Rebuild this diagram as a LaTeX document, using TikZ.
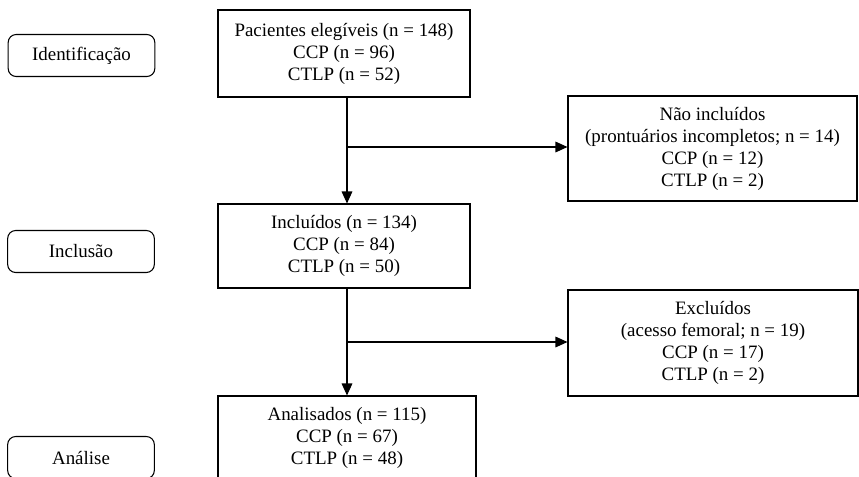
\documentclass[tikz,border=0pt]{standalone}
\usepackage{fontspec}
\setmainfont{Liberation Serif}
\usetikzlibrary{arrows.meta}
\begin{document}
\begin{tikzpicture}[x=0.75pt,y=-0.75pt,
  every node/.style={font=\fontsize{14.2pt}{16.5pt}\selectfont, align=center, inner sep=0pt},
  mainbox/.style={draw, line width=0.8pt},
  stagebox/.style={draw, line width=0.8pt, rounded corners=6pt, minimum width=110pt, minimum height=31.5pt},
  arr/.style={line width=0.8pt, -{Triangle[length=9pt,width=8pt]}}]
\clip (0,0) rectangle (859,476);
\fill[white] (0,0) rectangle (859,476);

\node[stagebox] (s1) at (81.5,55.5) {Identificação};
\node[stagebox] (s2) at (81,251.5) {Inclusão};
\node[stagebox] (s3) at (81,457.5) {Análise};

\node[mainbox, minimum width=189pt, minimum height=65.25pt] (b1) at (344,53.5)
  {Pacientes elegíveis (n = 148)\\CCP (n = 96)\\CTLP (n = 52)};
\node[mainbox, minimum width=216.75pt, minimum height=78.75pt] (b2) at (712.5,148.5)
  {Não incluídos\\(prontuários incompletos; n = 14)\\CCP (n = 12)\\CTLP (n = 2)};
\node[mainbox, minimum width=189pt, minimum height=63pt] (b3) at (344,246)
  {Incluídos (n = 134)\\CCP (n = 84)\\CTLP (n = 50)};
\node[mainbox, minimum width=217.5pt, minimum height=79.5pt] (b4) at (713,343)
  {Excluídos\\(acesso femoral; n = 19)\\CCP (n = 17)\\CTLP (n = 2)};
\node[mainbox, minimum width=193.5pt, minimum height=63pt] (b5) at (347,438)
  {Analisados (n = 115)\\CCP (n = 67)\\CTLP (n = 48)};

\coordinate (j1) at (347,147);
\coordinate (j2) at (347,342);
\draw[arr] (b1.south -| j1) -- (b3.north -| j1);
\draw[arr] (j1) -- (j1 -| b2.west);
\draw[arr] (b3.south -| j2) -- (b5.north -| j2);
\draw[arr] (j2) -- (j2 -| b4.west);
\end{tikzpicture}
\end{document}
